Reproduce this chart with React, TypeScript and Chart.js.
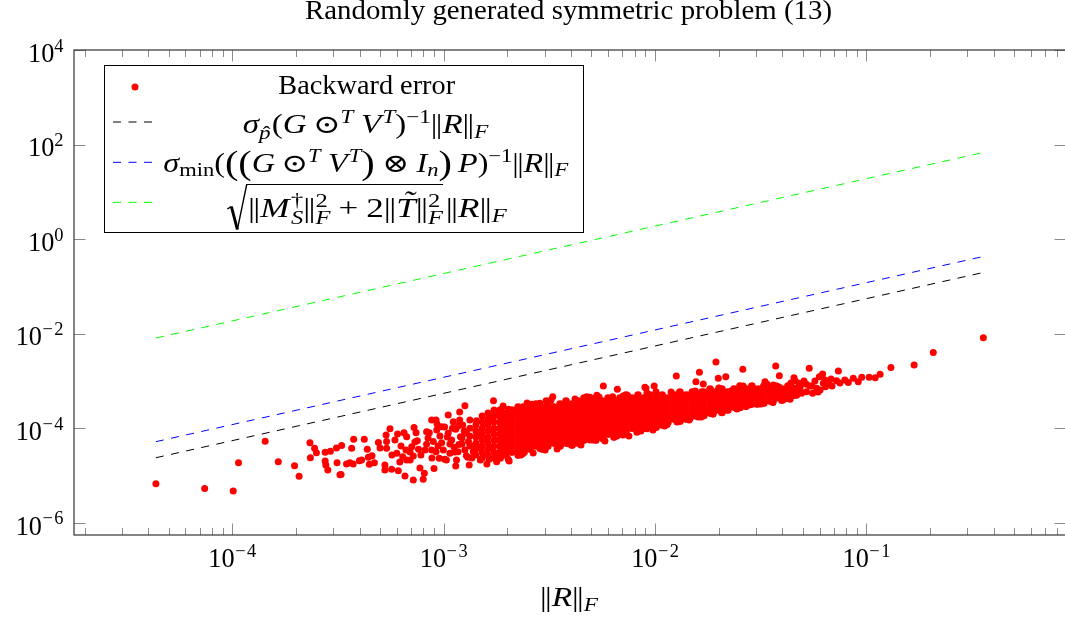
import React, { useEffect, useRef } from "react";
import { Chart, registerables } from "chart.js";

Chart.register(...registerables);

// ---------- data ----------
const TITLE = "Randomly generated symmetric problem (13)";
const X_MIN = 1.783e-5;
const X_MAX = 0.8785;
const Y_MIN = 5.5e-7;
const Y_MAX = 1e4;
const X_TICK_EXPONENTS = [-4, -3, -2, -1];
const Y_TICK_EXPONENTS = [4, 2, 0, -2, -4, -6];

// bound lines (‖R‖_F at both ends, bound values at both ends)
const boundNormR = [4.35e-5, 0.353];
const sigmaPBound = [2.37e-5, 0.1945];
const sigmaMinBound = [5.18e-5, 0.424];
const sqrtBound = [8.07e-3, 67.2];

// backward error points [‖R‖_F, backward error]
const errLowRange: [number, number][] = [
  [4.35e-5, 6.7e-6], [7.4e-5, 5.3e-6], [1.01e-4, 4.7e-6], [1.07e-4, 1.86e-5], [1.43e-4, 5.3e-5],
  [1.65e-4, 1.95e-5], [1.97e-4, 1.6e-5], [2.07e-4, 9.6e-6], [2.33e-4, 4.9e-5], [2.45e-4, 3.75e-5],
  [2.5e-4, 3.03e-5], [2.34e-4, 2.37e-5], [2.75e-4, 3.1e-5], [2.91e-4, 3.26e-5], [2.75e-4, 2.02e-5],
  [2.77e-4, 1.66e-5], [2.83e-4, 1.3e-5], [3.11e-4, 3.8e-5], [3.13e-4, 1.86e-5], [3.23e-4, 1.03e-5],
  [3.29e-4, 4.3e-5], [3.75e-4, 5.8e-5], [3.67e-4, 3.75e-5], [3.47e-4, 1.75e-5], [3.6e-4, 1.86e-5],
  [3.73e-4, 1.75e-5], [3.99e-4, 2.05e-5], [4.21e-4, 5.8e-5], [4.35e-4, 3.57e-5], [4.09e-4, 2.12e-5],
  [4.4e-4, 2.42e-5], [4.45e-4, 1.72e-5], [4.7e-4, 1.86e-5], [3.27e-4, 1.05e-5], [4.91e-4, 5.0e-5],
  [5.34e-4, 7.2e-5], [5.57e-4, 9.7e-5], [5.37e-4, 5.2e-5], [5.37e-4, 3.75e-5], [5.27e-4, 1.66e-5],
  [5.27e-4, 1.3e-5], [5.67e-4, 1.35e-5], [6.1e-4, 1.26e-5], [6.56e-4, 9.7e-6], [7.18e-4, 8.0e-6],
  [8.0e-4, 8.3e-6], [8.1e-4, 1.11e-5], [6.05e-4, 7.5e-5], [6.49e-4, 8.0e-5], [6.68e-4, 6.6e-5],
  [6.28e-4, 4.2e-5], [6.0e-4, 2.94e-5], [6.4e-4, 2.49e-5], [6.68e-4, 2.12e-5], [6.63e-4, 3.46e-5],
  [7.06e-4, 4.06e-5], [7.24e-4, 1.04e-4], [7.4e-4, 8.0e-5], [7.5e-4, 5.4e-5], [7.6e-4, 3.57e-5],
  [7.18e-4, 2.58e-5], [6.94e-4, 2.12e-5], [7.8e-4, 2.7e-5], [8.16e-4, 3.46e-5], [8.3e-4, 4.56e-5],
  [8.3e-4, 8.4e-5], [8.55e-4, 8.0e-5], [8.77e-4, 1.49e-4], [9.2e-4, 1.49e-4], [9.78e-4, 1.07e-4],
  [9.27e-4, 9.1e-5], [8.93e-4, 5.2e-5], [8.77e-4, 3.46e-5], [9.2e-4, 3.18e-5], [9.0e-4, 1.41e-5],
  [9.78e-4, 4.93e-5], [9.96e-4, 3.46e-5], [9.53e-4, 2.31e-5],
  [5.88e-4, 5.6e-5], [6.2e-4, 1.92e-5], [6.93e-4, 3.13e-5], [7.31e-4, 5.1e-5], [7.72e-4, 1.44e-5],
  [8.43e-4, 6.2e-5], [8.8e-4, 2.34e-5], [9.4e-4, 4.2e-5], [9.6e-4, 6.8e-5], [9.3e-4, 1.22e-4],
  [5.69e-4, 2.7e-5], [5.0e-4, 3.8e-5], [4.58e-4, 2.6e-5],
];

const errMidRange: [number, number][] = [
  [1.01e-3, 2.2e-5], [1.05e-3, 7.8e-5], [1.11e-3, 1.37e-4], [1.14e-3, 9.5e-5], [1.19e-3, 1.49e-4],
  [1.23e-3, 1.17e-4], [1.26e-3, 2.99e-4], [1.33e-3, 1.49e-4], [1.43e-3, 1.44e-4], [1.09e-3, 5.6e-5],
  [1.12e-3, 3.94e-5], [1.07e-3, 2.94e-5], [1.03e-3, 2.12e-5], [1.17e-3, 3.18e-5], [1.22e-3, 4.63e-5],
  [1.2e-3, 6.6e-5], [1.28e-3, 7.8e-5], [1.31e-3, 5.2e-5], [1.26e-3, 3.46e-5], [1.3e-3, 2.42e-5],
  [1.15e-3, 2.12e-5], [1.14e-3, 1.58e-5], [1.32e-3, 1.66e-5], [1.38e-3, 3.18e-5], [1.41e-3, 4.4e-5],
  [1.43e-3, 8.4e-5], [1.51e-3, 7.2e-5], [1.57e-3, 1.27e-4], [1.69e-3, 1.49e-4], [1.72e-3, 3.8e-4],
  [1.69e-3, 1.8e-4], [1.78e-3, 2.13e-4], [1.49e-3, 4.06e-5], [1.54e-3, 2.7e-5], [1.6e-3, 5.6e-5],
  [1.72e-3, 9.5e-5], [1.75e-3, 5.6e-5], [1.66e-3, 3.75e-5], [1.75e-3, 2.7e-5], [1.49e-3, 2.12e-5],
  [1.64e-3, 2.2e-5], [1.6e-3, 1.75e-5], [1.78e-3, 1.95e-5], [1.04e-3, 6.5e-5], [1.1e-3, 1.0e-4],
  [1.25e-3, 8.7e-5], [1.33e-3, 4.2e-5], [1.33e-3, 1.0e-4], [1.18e-3, 4.5e-5],
  [1.01e-3, 1.06e-4], [1.07e-3, 4.6e-5], [1.13e-3, 3.13e-5], [1.17e-3, 1.11e-4], [1.22e-3, 6.2e-5],
  [1.28e-3, 2.6e-5], [1.33e-3, 6.8e-5], [1.36e-3, 2.34e-5], [1.19e-3, 2.2e-4], [1.05e-3, 1.9e-4],
  [1.42e-3, 1.17e-4], [1.42e-3, 8.7e-5], [1.42e-3, 6.5e-5], [1.42e-3, 4.85e-5], [1.42e-3, 3.62e-5], [1.42e-3, 2.7e-5],
  [1.52e-3, 1.81e-4], [1.52e-3, 1.35e-4], [1.52e-3, 1.0e-4], [1.52e-3, 7.5e-5], [1.52e-3, 5.6e-5], [1.52e-3, 4.2e-5], [1.52e-3, 3.13e-5], [1.52e-3, 2.34e-5],
  [1.62e-3, 2.09e-4], [1.62e-3, 1.56e-4], [1.62e-3, 1.17e-4], [1.62e-3, 8.7e-5], [1.62e-3, 6.5e-5], [1.62e-3, 4.85e-5], [1.62e-3, 3.62e-5], [1.62e-3, 2.7e-5],
  [1.73e-3, 2.42e-4], [1.73e-3, 1.81e-4], [1.73e-3, 1.35e-4], [1.73e-3, 1.0e-4], [1.73e-3, 7.5e-5], [1.73e-3, 5.6e-5], [1.73e-3, 4.2e-5], [1.73e-3, 3.13e-5], [1.73e-3, 2.34e-5],
];

const errDenseBand: [number, number][] = [
  [1.85e-3, 2.42e-4], [1.85e-3, 1.81e-4], [1.85e-3, 1.35e-4], [1.85e-3, 1.0e-4], [1.85e-3, 7.5e-5], [1.85e-3, 5.6e-5], [1.85e-3, 4.2e-5], [1.85e-3, 3.13e-5], [1.85e-3, 2.34e-5],
  [1.97e-3, 2.09e-4], [1.97e-3, 1.56e-4], [1.97e-3, 1.17e-4], [1.97e-3, 8.7e-5], [1.97e-3, 6.5e-5], [1.97e-3, 4.85e-5], [1.97e-3, 3.62e-5], [1.97e-3, 2.7e-5],
  [2.1e-3, 2.42e-4], [2.1e-3, 1.81e-4], [2.1e-3, 1.35e-4], [2.1e-3, 1.0e-4], [2.1e-3, 7.5e-5], [2.1e-3, 5.6e-5], [2.1e-3, 4.2e-5], [2.1e-3, 3.13e-5],
  [2.25e-3, 2.8e-4], [2.25e-3, 2.09e-4], [2.25e-3, 1.56e-4], [2.25e-3, 1.17e-4], [2.25e-3, 8.7e-5], [2.25e-3, 6.5e-5], [2.25e-3, 4.85e-5], [2.25e-3, 3.62e-5], [2.25e-3, 2.7e-5],
  [2.4e-3, 2.42e-4], [2.4e-3, 1.81e-4], [2.4e-3, 1.35e-4], [2.4e-3, 1.0e-4], [2.4e-3, 7.5e-5], [2.4e-3, 5.6e-5], [2.4e-3, 4.2e-5], [2.4e-3, 3.13e-5],
  [2.56e-3, 2.8e-4], [2.56e-3, 2.09e-4], [2.56e-3, 1.56e-4], [2.56e-3, 1.17e-4], [2.56e-3, 8.7e-5], [2.56e-3, 6.5e-5], [2.56e-3, 4.85e-5], [2.56e-3, 3.62e-5],
  [2.73e-3, 3.24e-4], [2.73e-3, 2.42e-4], [2.73e-3, 1.81e-4], [2.73e-3, 1.35e-4], [2.73e-3, 1.0e-4], [2.73e-3, 7.5e-5], [2.73e-3, 5.6e-5], [2.73e-3, 4.2e-5],
  [2.92e-3, 2.8e-4], [2.92e-3, 2.09e-4], [2.92e-3, 1.56e-4], [2.92e-3, 1.17e-4], [2.92e-3, 8.7e-5], [2.92e-3, 6.5e-5], [2.92e-3, 4.85e-5], [2.92e-3, 3.62e-5],
  [3.11e-3, 3.24e-4], [3.11e-3, 2.42e-4], [3.11e-3, 1.81e-4], [3.11e-3, 1.35e-4], [3.11e-3, 1.0e-4], [3.11e-3, 7.5e-5], [3.11e-3, 5.6e-5], [3.11e-3, 4.2e-5],
  [3.32e-3, 2.8e-4], [3.32e-3, 2.09e-4], [3.32e-3, 1.56e-4], [3.32e-3, 1.17e-4], [3.32e-3, 8.7e-5], [3.32e-3, 6.5e-5], [3.32e-3, 4.85e-5],
  [3.55e-3, 3.24e-4], [3.55e-3, 2.42e-4], [3.55e-3, 1.81e-4], [3.55e-3, 1.35e-4], [3.55e-3, 1.0e-4], [3.55e-3, 7.5e-5], [3.55e-3, 5.6e-5], [3.55e-3, 4.2e-5],
  [3.79e-3, 3.75e-4], [3.79e-3, 2.8e-4], [3.79e-3, 2.09e-4], [3.79e-3, 1.56e-4], [3.79e-3, 1.17e-4], [3.79e-3, 8.7e-5], [3.79e-3, 6.5e-5], [3.79e-3, 4.85e-5],
  [4.05e-3, 3.24e-4], [4.05e-3, 2.42e-4], [4.05e-3, 1.81e-4], [4.05e-3, 1.35e-4], [4.05e-3, 1.0e-4], [4.05e-3, 7.5e-5], [4.05e-3, 5.6e-5], [4.05e-3, 4.4e-5],
  [4.32e-3, 3.75e-4], [4.32e-3, 2.8e-4], [4.32e-3, 2.09e-4], [4.32e-3, 1.56e-4], [4.32e-3, 1.17e-4], [4.32e-3, 8.7e-5], [4.32e-3, 6.5e-5], [4.32e-3, 4.85e-5],
  [4.61e-3, 4.35e-4], [4.61e-3, 3.24e-4], [4.61e-3, 2.42e-4], [4.61e-3, 1.81e-4], [4.61e-3, 1.35e-4], [4.61e-3, 1.0e-4], [4.61e-3, 7.5e-5], [4.61e-3, 5.6e-5],
  [4.92e-3, 3.75e-4], [4.92e-3, 2.8e-4], [4.92e-3, 2.09e-4], [4.92e-3, 1.56e-4], [4.92e-3, 1.17e-4], [4.92e-3, 8.7e-5], [4.92e-3, 6.5e-5],
  [5.25e-3, 4.35e-4], [5.25e-3, 3.24e-4], [5.25e-3, 2.42e-4], [5.25e-3, 1.81e-4], [5.25e-3, 1.35e-4], [5.25e-3, 1.0e-4], [5.25e-3, 7.5e-5], [5.25e-3, 5.6e-5],
  [5.61e-3, 3.75e-4], [5.61e-3, 2.8e-4], [5.61e-3, 2.09e-4], [5.61e-3, 1.56e-4], [5.61e-3, 1.17e-4], [5.61e-3, 8.7e-5], [5.61e-3, 6.5e-5],
  [5.99e-3, 4.35e-4], [5.99e-3, 3.24e-4], [5.99e-3, 2.42e-4], [5.99e-3, 1.81e-4], [5.99e-3, 1.35e-4], [5.99e-3, 1.0e-4], [5.99e-3, 7.5e-5],
  [6.39e-3, 3.75e-4], [6.39e-3, 2.8e-4], [6.39e-3, 2.09e-4], [6.39e-3, 1.56e-4], [6.39e-3, 1.17e-4], [6.39e-3, 8.7e-5], [6.39e-3, 6.5e-5],
  [6.82e-3, 4.35e-4], [6.82e-3, 3.24e-4], [6.82e-3, 2.42e-4], [6.82e-3, 1.81e-4], [6.82e-3, 1.35e-4], [6.82e-3, 1.0e-4], [6.82e-3, 7.5e-5],
  [7.28e-3, 5.0e-4], [7.28e-3, 3.75e-4], [7.28e-3, 2.8e-4], [7.28e-3, 2.09e-4], [7.28e-3, 1.56e-4], [7.28e-3, 1.17e-4], [7.28e-3, 8.7e-5],
  [7.78e-3, 4.35e-4], [7.78e-3, 3.24e-4], [7.78e-3, 2.42e-4], [7.78e-3, 1.81e-4], [7.78e-3, 1.35e-4], [7.78e-3, 1.0e-4],
  [8.3e-3, 5.0e-4], [8.3e-3, 3.75e-4], [8.3e-3, 2.8e-4], [8.3e-3, 2.09e-4], [8.3e-3, 1.56e-4], [8.3e-3, 1.17e-4], [8.3e-3, 8.7e-5],
  [8.86e-3, 4.35e-4], [8.86e-3, 3.24e-4], [8.86e-3, 2.42e-4], [8.86e-3, 1.81e-4], [8.86e-3, 1.35e-4], [8.86e-3, 1.0e-4],
  [9.46e-3, 5.0e-4], [9.46e-3, 3.75e-4], [9.46e-3, 2.8e-4], [9.46e-3, 2.09e-4], [9.46e-3, 1.56e-4], [9.46e-3, 1.17e-4],
  [1.01e-2, 4.35e-4], [1.01e-2, 3.24e-4], [1.01e-2, 2.42e-4], [1.01e-2, 1.81e-4], [1.01e-2, 1.35e-4], [1.01e-2, 1.05e-4],
  [1.08e-2, 5.0e-4], [1.08e-2, 3.75e-4], [1.08e-2, 2.8e-4], [1.08e-2, 2.09e-4], [1.08e-2, 1.56e-4], [1.08e-2, 1.17e-4],
  [1.15e-2, 4.35e-4], [1.15e-2, 3.24e-4], [1.15e-2, 2.42e-4], [1.15e-2, 1.81e-4], [1.15e-2, 1.35e-4],
  [1.23e-2, 5.0e-4], [1.23e-2, 3.75e-4], [1.23e-2, 2.8e-4], [1.23e-2, 2.09e-4], [1.23e-2, 1.56e-4],
  [1.31e-2, 5.8e-4], [1.31e-2, 4.35e-4], [1.31e-2, 3.24e-4], [1.31e-2, 2.42e-4], [1.31e-2, 1.81e-4], [1.31e-2, 1.4e-4],
  [1.4e-2, 5.0e-4], [1.4e-2, 3.75e-4], [1.4e-2, 2.8e-4], [1.4e-2, 2.09e-4], [1.4e-2, 1.56e-4],
  [1.5e-2, 5.8e-4], [1.5e-2, 4.35e-4], [1.5e-2, 3.24e-4], [1.5e-2, 2.42e-4], [1.5e-2, 1.81e-4],
  [1.6e-2, 5.0e-4], [1.6e-2, 3.75e-4], [1.6e-2, 2.8e-4], [1.6e-2, 2.09e-4], [1.6e-2, 1.75e-4],
  [1.7e-2, 5.8e-4], [1.7e-2, 4.35e-4], [1.7e-2, 3.24e-4], [1.7e-2, 2.42e-4], [1.7e-2, 1.85e-4],
  [1.82e-2, 6.7e-4], [1.82e-2, 5.0e-4], [1.82e-2, 3.75e-4], [1.82e-2, 2.8e-4], [1.82e-2, 2.09e-4],
  [1.94e-2, 5.8e-4], [1.94e-2, 4.35e-4], [1.94e-2, 3.24e-4], [1.94e-2, 2.42e-4],
  [2.07e-2, 6.7e-4], [2.07e-2, 5.0e-4], [2.07e-2, 3.75e-4], [2.07e-2, 2.8e-4], [2.07e-2, 2.15e-4],
  [2.21e-2, 5.8e-4], [2.21e-2, 4.35e-4], [2.21e-2, 3.24e-4], [2.21e-2, 2.42e-4],
  [2.36e-2, 6.7e-4], [2.36e-2, 5.0e-4], [2.36e-2, 3.75e-4], [2.36e-2, 2.8e-4],
  [2.52e-2, 7.8e-4], [2.52e-2, 5.8e-4], [2.52e-2, 4.35e-4], [2.52e-2, 3.24e-4], [2.52e-2, 2.75e-4],
  [2.69e-2, 6.7e-4], [2.69e-2, 5.0e-4], [2.69e-2, 3.75e-4], [2.69e-2, 2.9e-4],
  [2.87e-2, 7.8e-4], [2.87e-2, 5.8e-4], [2.87e-2, 4.35e-4], [2.87e-2, 3.24e-4],
  [3.07e-2, 6.7e-4], [3.07e-2, 5.0e-4], [3.07e-2, 3.75e-4], [3.07e-2, 3.3e-4],
  [3.27e-2, 7.8e-4], [3.27e-2, 5.8e-4], [3.27e-2, 4.35e-4], [3.27e-2, 3.4e-4],
  [3.5e-2, 6.7e-4], [3.5e-2, 5.0e-4], [3.5e-2, 3.75e-4],
  [3.73e-2, 7.8e-4], [3.73e-2, 5.8e-4], [3.73e-2, 4.35e-4],
  [3.98e-2, 6.7e-4], [3.98e-2, 5.0e-4], [3.98e-2, 3.9e-4],
  [4.25e-2, 7.8e-4], [4.25e-2, 5.8e-4], [4.25e-2, 4.5e-4],
  [4.54e-2, 6.7e-4], [4.54e-2, 5.0e-4],
  [4.85e-2, 7.8e-4], [4.85e-2, 5.8e-4],
];

const errBandEdges: [number, number][] = [
  // upper edge and outliers
  [2.02e-3, 2.5e-4], [2.37e-3, 2.85e-4], [2.61e-3, 3.2e-4], [2.85e-3, 3.35e-4], [3.05e-3, 3.81e-4],
  [3.28e-3, 4.63e-4], [3.3e-3, 2.85e-4], [3.88e-3, 2.42e-4], [4.33e-3, 2.85e-4], [4.75e-3, 4.63e-4],
  [4.92e-3, 4.5e-4], [5.3e-3, 5.0e-4], [5.4e-3, 3.36e-4], [5.69e-3, 7.8e-4], [5.88e-3, 3.45e-4],
  [6.3e-3, 4.63e-4], [6.63e-3, 6.64e-4], [6.95e-3, 3.6e-4], [7.4e-3, 5.0e-4], [7.88e-3, 3.36e-4],
  [8.33e-3, 4.07e-4], [8.95e-3, 7.3e-4], [9.13e-3, 3.6e-4], [9.05e-3, 6.97e-4], [9.9e-3, 7.8e-4],
  [1.01e-2, 5.9e-4], [1.26e-2, 1.27e-3], [1.56e-2, 9.6e-4], [1.62e-2, 1.52e-3], [1.69e-2, 8.6e-4],
  [1.66e-2, 5.9e-4], [1.82e-2, 6.4e-4], [1.94e-2, 2.51e-3], [1.99e-2, 1.14e-3], [2.01e-2, 6.97e-4],
  [2.16e-2, 1.23e-3], [2.39e-2, 6.4e-4], [2.47e-2, 6.2e-4], [2.6e-2, 1.76e-3], [3.31e-2, 9.6e-4],
  [3.43e-2, 6.64e-4], [3.62e-2, 8.2e-4], [3.72e-2, 2.06e-3], [3.87e-2, 1.29e-3], [4.54e-2, 1.17e-3],
  [4.59e-2, 6.97e-4], [1.29e-2, 4.8e-4], [1.42e-2, 5.0e-4], [1.09e-2, 4.63e-4],
  [1.91e-3, 2.94e-4], [2.17e-3, 2.31e-4], [2.48e-3, 3.4e-4], [2.82e-3, 2.8e-4], [3.22e-3, 3.94e-4],
  [3.67e-3, 3.09e-4], [4.18e-3, 4.14e-4], [4.76e-3, 3.57e-4], [5.43e-3, 4.56e-4], [6.18e-3, 3.75e-4],
  [7.05e-3, 4.78e-4], [8.03e-3, 4.14e-4], [9.15e-3, 5.54e-4], [1.04e-2, 4.56e-4], [1.19e-2, 5.8e-4],
  [1.35e-2, 4.78e-4], [1.55e-2, 6.1e-4], [1.76e-2, 5.28e-4], [2.0e-2, 7.1e-4], [2.29e-2, 6.1e-4],
  [2.61e-2, 7.8e-4], [2.97e-2, 6.7e-4], [3.38e-2, 8.6e-4], [3.86e-2, 7.4e-4], [4.39e-2, 9.0e-4],
  // lower edge
  [2.02e-3, 2.2e-5], [2.37e-3, 2.9e-5], [2.85e-3, 3.7e-5], [3.47e-3, 4.3e-5], [4.05e-3, 4.4e-5],
  [4.92e-3, 5.6e-5], [5.67e-3, 5.9e-5], [7.05e-3, 7.2e-5], [8.2e-3, 8.2e-5], [9.15e-3, 9.7e-5],
  [1.14e-2, 1.2e-4], [1.46e-2, 1.6e-4], [1.88e-2, 2.0e-4], [2.44e-2, 2.6e-4], [3.03e-2, 3.2e-4],
  [3.61e-2, 3.5e-4], [4.35e-2, 4.1e-4],
  [2.04e-3, 2.02e-5], [2.32e-3, 2.7e-5], [2.65e-3, 2.99e-5], [3.02e-3, 3.46e-5], [3.44e-3, 3.62e-5],
  [3.92e-3, 4.6e-5], [4.46e-3, 4.4e-5], [5.08e-3, 5.6e-5], [5.79e-3, 5.35e-5], [6.6e-3, 6.8e-5],
  [7.52e-3, 6.8e-5], [8.57e-3, 8.7e-5], [9.77e-3, 9.1e-5], [1.11e-2, 1.11e-4], [1.27e-2, 1.35e-4],
  [1.45e-2, 1.49e-4], [1.65e-2, 1.72e-4], [1.88e-2, 2.0e-4], [2.14e-2, 2.42e-4], [2.44e-2, 2.54e-4],
  [2.78e-2, 3.09e-4], [3.17e-2, 3.24e-4], [3.61e-2, 3.57e-4], [4.11e-2, 4.14e-4],
];

const errHighRange: [number, number][] = [
  [5.36e-2, 1.85e-3], [4.81e-2, 8.9e-4], [5.2e-2, 8.5e-4], [6.2e-2, 1.4e-3], [5.98e-2, 1.23e-3],
  [6.25e-2, 8.9e-4], [6.6e-2, 8.9e-4], [5.81e-2, 6.97e-4], [6.03e-2, 6.4e-4], [7.36e-2, 1.62e-3],
  [7.22e-2, 1.01e-3], [7.9e-2, 1.04e-3], [8.2e-2, 9.2e-4], [8.66e-2, 1.14e-3], [9.14e-2, 9.6e-4],
  [9.5e-2, 1.19e-3], [0.103, 1.2e-3], [0.11, 1.17e-3], [0.116, 1.38e-3], [0.1305, 1.92e-3],
  [0.168, 2.17e-3], [0.207, 4.0e-3], [0.357, 8.2e-3], [4.5e-2, 5.9e-4], [4.93e-2, 5.46e-4],
  [5.2e-2, 5.9e-4], [4.67e-2, 5.0e-4], [5.56e-2, 5.46e-4], [5.4e-2, 7.8e-4], [6.4e-2, 7.5e-4],
  [5.7e-2, 1.0e-3], [6.8e-2, 1.1e-3],
  [4.85e-2, 6.4e-4], [5.06e-2, 1.0e-3], [5.52e-2, 7.8e-4], [5.9e-2, 5.8e-4], [6.37e-2, 1.04e-3],
  [6.87e-2, 7.8e-4], [7.49e-2, 9.0e-4], [4.35e-2, 7.8e-4], [4.6e-2, 1.0e-3],
];

// ---------- text helpers ----------
const SERIF = '"Liberation Serif", "DejaVu Serif", serif';
const rm = (s: number) => `${s}px ${SERIF}`;
const it = (s: number) => `italic ${s}px ${SERIF}`;
const B = 26.3;
const S = 18.4;
const BIG = 33;
const SUP = -10;
const SUB = 4.5;

type Part = { t: string; f: string; dy?: number };
type Seg = {
  t?: string; f?: string; dy?: number; pad?: number; w?: number; mark?: string;
  accent?: string; accentDy?: number; accentF?: string; accentDx?: number; stack?: Part[];
};

function segWidth(ctx: CanvasRenderingContext2D, s: Seg) {
  let w = 0;
  if (s.w !== undefined) w = s.w;
  else if (s.stack) {
    w = Math.max(...s.stack.map((p) => { ctx.font = p.f; return ctx.measureText(p.t).width; }));
  } else if (s.t) { ctx.font = s.f as string; w = ctx.measureText(s.t).width; }
  return w + (s.pad || 0);
}

function drawRich(ctx: CanvasRenderingContext2D, segs: Seg[], cx: number, baseline: number, target?: number) {
  const widths = segs.map((s) => segWidth(ctx, s));
  const total = widths.reduce((a, b) => a + b, 0);
  const sx = target ? target / total : 1;
  ctx.save();
  ctx.translate(cx - (total * sx) / 2, baseline);
  ctx.scale(sx, 1);
  ctx.textAlign = "left";
  ctx.textBaseline = "alphabetic";
  ctx.fillStyle = "#000";
  ctx.strokeStyle = "#000";
  const marks: Record<string, number> = {};
  let x = 0;
  segs.forEach((s, i) => {
    const pad = s.pad || 0;
    const w = widths[i] - pad;
    x += pad;
    if (s.mark) marks[s.mark] = x;
    if (s.stack) {
      s.stack.forEach((p) => { ctx.font = p.f; ctx.fillText(p.t, x, p.dy || 0); });
    } else if (s.t) {
      ctx.font = s.f as string;
      ctx.fillText(s.t, x, s.dy || 0);
      if (s.accent) {
        ctx.font = s.accentF || (s.f as string);
        ctx.textAlign = "center";
        ctx.fillText(s.accent, x + w / 2 + (s.accentDx || 0), (s.dy || 0) + (s.accentDy || 0));
        ctx.textAlign = "left";
      }
    }
    x += w;
  });
  if (marks.sqrtStart !== undefined && marks.sqrtEnd !== undefined) {
    const a = marks.sqrtStart;
    const e = marks.sqrtEnd;
    ctx.lineCap = "butt";
    ctx.lineJoin = "miter";
    ctx.beginPath(); ctx.moveTo(a + 0.5, -8); ctx.lineTo(a + 3.5, -10.5); ctx.lineWidth = 1.1; ctx.stroke();
    ctx.beginPath(); ctx.moveTo(a + 3.5, -10.5); ctx.lineTo(a + 8, 12.5); ctx.lineWidth = 2.2; ctx.stroke();
    ctx.beginPath(); ctx.moveTo(a + 8, 12.5); ctx.lineTo(a + 15, -32.5); ctx.lineTo(e, -32.5); ctx.lineWidth = 1.1; ctx.stroke();
  }
  ctx.restore();
}

function drawPow(ctx: CanvasRenderingContext2D, exp: number, x: number, baseline: number, align: "right" | "center") {
  const base = "10";
  const digits = String(Math.abs(exp));
  ctx.font = rm(B);
  const wb = ctx.measureText(base).width;
  ctx.font = rm(S);
  const wm = exp < 0 ? ctx.measureText("\u2212").width + 2 : 0;
  const wd = ctx.measureText(digits).width;
  const total = wb + wm + wd;
  const left = align === "right" ? x - total : x - total / 2;
  ctx.textAlign = "left";
  ctx.textBaseline = "alphabetic";
  ctx.fillStyle = "#000";
  ctx.font = rm(B);
  ctx.fillText(base, left, baseline);
  ctx.font = rm(S);
  if (exp < 0) ctx.fillText("\u2212", left + wb + 0.5, baseline - 10.3);
  ctx.fillText(digits, left + wb + wm, baseline - 10.3);
}

const BAR: Seg = { t: "|", f: rm(B) };
const BAR2: Seg = { t: "|", f: rm(B), pad: -1.3 };
const normR: Seg[] = [BAR, BAR2, { t: "R", f: it(B) }, BAR, BAR2, { t: "F", f: it(S), dy: SUB }];
const sqF: Seg = { stack: [{ t: "2", f: rm(S), dy: SUP }, { t: "F", f: it(S), dy: SUB + 2 }] };

const legendRows: { segs: Seg[]; cx: number; base: number; width: number }[] = [
  { segs: [{ t: "Backward error", f: rm(B) }], cx: 366.7, base: 94.3, width: 176.7 },
  {
    segs: [
      { t: "σ", f: it(B) },
      { t: "p", f: it(S), dy: SUB + 1, accent: "\u02C6", accentDx: 1.5, accentF: rm(S) },
      { t: "(", f: rm(B), pad: 1 },
      { t: "G", f: it(B) },
      { t: "⊙", f: rm(B), pad: 5 },
      { t: "T", f: it(S), dy: SUP },
      { t: "V", f: it(B), pad: 6 },
      { t: "T", f: it(S), dy: SUP, pad: 1 },
      { t: ")", f: rm(B) },
      { t: "−1", f: rm(S), dy: SUP },
      ...normR,
    ],
    cx: 365.5, base: 133, width: 245.6,
  },
  {
    segs: [
      { t: "σ", f: it(B) },
      { t: "min", f: rm(S), dy: SUB },
      { t: "(", f: rm(B) },
      { t: "(", f: rm(BIG), dy: 2 },
      { t: "(", f: rm(BIG), dy: 2 },
      { t: "G", f: it(B) },
      { t: "⊙", f: rm(B), pad: 5 },
      { t: "T", f: it(S), dy: SUP },
      { t: "V", f: it(B), pad: 6 },
      { t: "T", f: it(S), dy: SUP, pad: 1 },
      { t: ")", f: rm(BIG), dy: 2 },
      { t: "⊗", f: rm(B), pad: 6 },
      { t: "I", f: it(B), pad: 6 },
      { t: "n", f: it(S), dy: SUB },
      { t: ")", f: rm(BIG), dy: 2 },
      { t: "P", f: it(B), pad: 5 },
      { t: ")", f: rm(B) },
      { t: "−1", f: rm(S), dy: SUP },
      ...normR,
    ],
    cx: 365.8, base: 171.7, width: 405,
  },
  {
    segs: [
      { w: 16, mark: "sqrtStart" },
      BAR, BAR2,
      { t: "M", f: it(B) },
      { stack: [{ t: "†", f: rm(S), dy: SUP - 1 }, { t: "S", f: it(S), dy: SUB + 2 }], pad: 1 },
      BAR, BAR2,
      sqF,
      { t: "+", f: rm(B), pad: 6 },
      { t: "2", f: rm(B), pad: 6 },
      BAR, BAR2,
      { t: "T", f: it(B), accent: "\u02DC", accentDy: -7, accentDx: 2 },
      BAR, BAR2,
      sqF,
      { w: 2, mark: "sqrtEnd" },
      ...normR,
    ],
    cx: 366.7, base: 217, width: 280,
  },
];

const decorPlugin = {
  id: "pgfDecor",
  afterDraw(chart: any) {
    const ctx: CanvasRenderingContext2D = chart.ctx;
    const { left, right, top, bottom } = chart.chartArea;
    const xs = chart.scales.x;
    const ys = chart.scales.y;
    ctx.save();

    // ticks
    ctx.strokeStyle = "#8c8c8c";
    ctx.lineWidth = 1;
    ctx.beginPath();
    for (let e = -5; e <= 0; e++) {
      for (let m = 1; m <= 9; m++) {
        const v = m * Math.pow(10, e);
        if (v <= X_MIN || v >= X_MAX) continue;
        const px = Math.round(xs.getPixelForValue(v)) + 0.5;
        const len = m === 1 ? 11.5 : 7;
        ctx.moveTo(px, bottom); ctx.lineTo(px, bottom - len);
        ctx.moveTo(px, top); ctx.lineTo(px, top + len);
      }
    }
    Y_TICK_EXPONENTS.forEach((e) => {
      const py = Math.round(ys.getPixelForValue(Math.pow(10, e))) + 0.5;
      ctx.moveTo(left, py); ctx.lineTo(left + 11.5, py);
      ctx.moveTo(right, py); ctx.lineTo(right - 11.5, py);
    });
    ctx.stroke();

    // frame
    ctx.strokeStyle = "#333";
    ctx.lineWidth = 1.2;
    ctx.strokeRect(left, top, right - left, bottom - top);

    // tick labels
    X_TICK_EXPONENTS.forEach((e) => {
      const px = xs.getPixelForValue(Math.pow(10, e));
      drawPow(ctx, e, px, bottom + 32, "center");
    });
    Y_TICK_EXPONENTS.forEach((e) => {
      const py = ys.getPixelForValue(Math.pow(10, e));
      drawPow(ctx, e, left - 10.5, py + 11.8, "right");
    });

    // title and axis label
    drawRich(ctx, [{ t: TITLE, f: rm(B) }], (left + right) / 2 - 1.5, 18.5, 527);
    drawRich(ctx, normR, (left + right) / 2 - 1, 606, 58);

    // legend
    ctx.fillStyle = "#fff";
    ctx.fillRect(104.5, 65.5, 479, 167);
    ctx.strokeStyle = "#000";
    ctx.lineWidth = 1;
    ctx.strokeRect(104.5, 65.5, 479, 167);

    ctx.fillStyle = "#ff0000";
    ctx.beginPath();
    ctx.arc(135, 87, 3.5, 0, Math.PI * 2);
    ctx.fill();

    const dashRows: [number, string][] = [[122, "#000"], [162.3, "#0000ff"], [202.3, "#00ff00"]];
    ctx.lineWidth = 1;
    ctx.setLineDash([8, 7.5]);
    dashRows.forEach(([y, c]) => {
      ctx.strokeStyle = c;
      ctx.beginPath();
      ctx.moveTo(113, y);
      ctx.lineTo(153, y);
      ctx.stroke();
    });
    ctx.setLineDash([]);

    legendRows.forEach((r) => drawRich(ctx, r.segs, r.cx, r.base, r.width));
    ctx.restore();
  },
};

const toXY = (pts: [number, number][]) => pts.map(([x, y]) => ({ x, y }));
const boundLine = (vals: number[]) => vals.map((y, i) => ({ x: boundNormR[i], y }));

export default function App() {
  const ref = useRef<HTMLCanvasElement>(null);
  useEffect(() => {
    if (!ref.current) return;
    const chart = new Chart(ref.current, {
      type: "scatter",
      data: {
        datasets: [
          {
            label: "Backward error",
            data: toXY([...errLowRange, ...errMidRange, ...errBandEdges, ...errHighRange]),
            pointRadius: 3.5,
            pointBackgroundColor: "#ff0000",
            pointBorderWidth: 0,
            showLine: false,
          },
          {
            label: "Backward error (dense core)",
            data: toXY(errDenseBand),
            pointRadius: 3.85,
            pointBackgroundColor: "#ff0000",
            pointBorderWidth: 0,
            showLine: false,
          },
          {
            label: "sigma_p bound",
            data: boundLine(sigmaPBound),
            showLine: true,
            borderColor: "#000000",
            borderWidth: 1,
            borderDash: [8, 7.5],
            pointRadius: 0,
          },
          {
            label: "sigma_min bound",
            data: boundLine(sigmaMinBound),
            showLine: true,
            borderColor: "#0000ff",
            borderWidth: 1,
            borderDash: [8, 7.5],
            pointRadius: 0,
          },
          {
            label: "sqrt bound",
            data: boundLine(sqrtBound),
            showLine: true,
            borderColor: "#00ff00",
            borderWidth: 1,
            borderDash: [8, 7.5],
            pointRadius: 0,
          },
        ],
      } as any,
      options: {
        responsive: false,
        animation: false,
        devicePixelRatio: 1,
        events: [],
        layout: { padding: { left: 74, top: 50, right: 14, bottom: 84 } },
        plugins: {
          legend: { display: false },
          title: { display: false },
          tooltip: { enabled: false },
        },
        scales: {
          x: { type: "logarithmic", min: X_MIN, max: X_MAX, display: false, bounds: "data" },
          y: { type: "logarithmic", min: Y_MIN, max: Y_MAX, display: false, bounds: "data" },
        },
      } as any,
      plugins: [decorPlugin],
    });
    return () => chart.destroy();
  }, []);

  return (
    <div style={{ position: "fixed", left: 0, top: 0, width: 1065, height: 619, overflow: "hidden", background: "#fff" }}>
      <canvas ref={ref} width={1080} height={619} style={{ display: "block", width: 1080, height: 619 }} />
    </div>
  );
}
